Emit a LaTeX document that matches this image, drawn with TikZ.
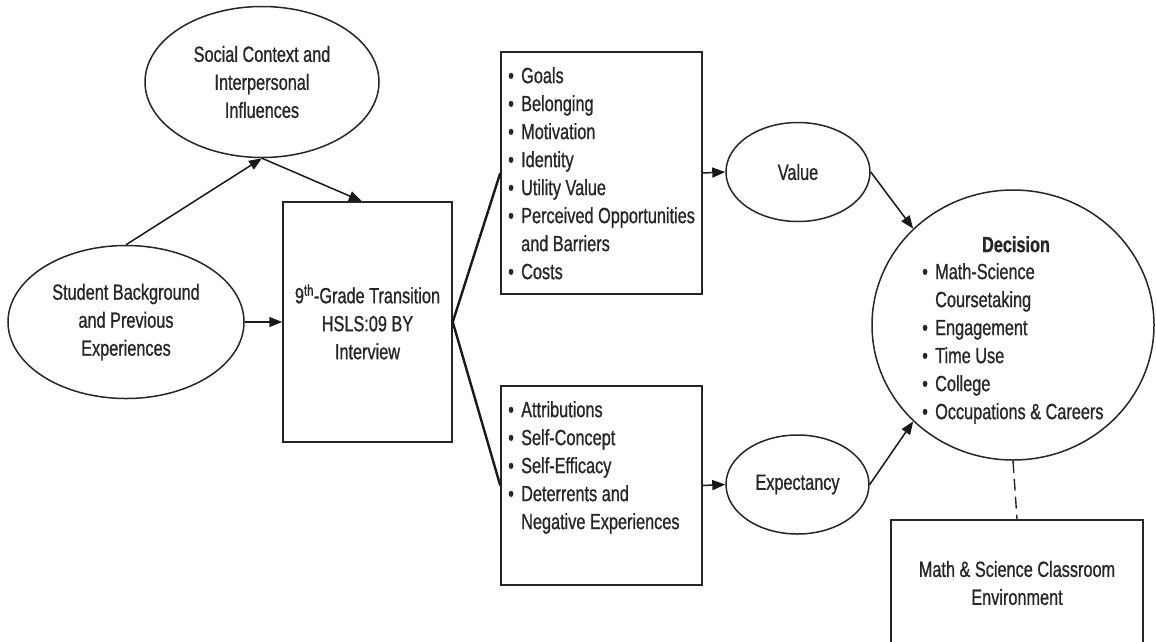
\documentclass[tikz,border=0pt]{standalone}
\usepackage{fontspec}
\setmainfont{Liberation Sans}[FakeStretch=0.74,FakeBold=0.8]
\usetikzlibrary{arrows.meta,shapes.geometric,calc}
\newcommand\bul{\makebox[13pt][l]{•}}
\newcommand\ind{\hspace*{13pt}}
\begin{document}
\begin{tikzpicture}[x=1pt,y=-1pt,
  every node/.style={font=\fontsize{22}{28}\selectfont, text=black!85},
  oval/.style={draw=black!85, ellipse, line width=1.5pt, inner sep=0pt},
  boxnode/.style={draw=black!85, rectangle, line width=1.5pt, inner sep=0pt},
  listtext/.style={align=left, inner sep=0pt, anchor=north west},
  arr/.style={draw=black!90, line width=1.5pt, -{Triangle[length=13pt,width=10pt]}},
  fan/.style={draw=black!90, line width=2.4pt},
  dashline/.style={draw=black!85, line width=1.4pt, dash pattern=on 12pt off 6pt},
]
\clip (0,0) rectangle (1156,641);
\fill[white] (0,0) rectangle (1156,641);

\node[oval, minimum width=234pt, minimum height=151pt, align=center] (social) at (262,82) {Social Context and\\Interpersonal\\Influences};
\node[oval, minimum width=236pt, minimum height=153pt, align=center] (student) at (126,322) {Student Background\\and Previous\\Experiences};
\node[boxnode, minimum width=169pt, minimum height=240pt, align=center] (grade) at (367.5,322) {9\textsuperscript{th}-Grade Transition\\HSLS:09 BY\\Interview};

\node[boxnode, minimum width=201pt, minimum height=242pt] (vbox) at (601.5,173) {};
\node[listtext] (vlist) at (508,67) {\bul Goals\\ \bul Belonging\\ \bul Motivation\\ \bul Identity\\ \bul Utility Value\\ \bul Perceived Opportunities\\ \ind and Barriers\\ \bul Costs};

\node[boxnode, minimum width=201pt, minimum height=199pt] (ebox) at (601.5,485.5) {};
\node[listtext] (elist) at (508,401) {\bul Attributions\\ \bul Self-Concept\\ \bul Self-Efficacy\\ \bul Deterrents and\\ \ind Negative Experiences};

\node[oval, minimum width=144pt, minimum height=99pt] (value) at (798,172) {Value};
\node[oval, minimum width=143pt, minimum height=99pt] (expect) at (797.5,484.5) {Expectancy};

\node[oval, minimum width=282pt, minimum height=270pt] (decision) at (1013,325) {};
\node[font=\bfseries\fontsize{22}{28}\selectfont, inner sep=0pt, anchor=north] (dtitle) at (1016,236) {Decision};
\node[listtext] (dlist) at (922,263) {\bul Math-Science\\ \ind Coursetaking\\ \bul Engagement\\ \bul Time Use\\ \bul College\\ \bul Occupations \& Careers};

\node[boxnode, minimum width=252pt, minimum height=160pt] (mbox) at (1017,600) {};
\node[align=center, inner sep=0pt] (mtext) at (1017,583) {Math \& Science Classroom\\Environment};

\draw[arr] (student.north) -- (social.south);
\draw[arr] (social.south) -- ($(grade.north west)!0.467!(grade.north east)$);
\draw[arr] (student.east) -- (grade.west);
\draw[fan] (vbox.west) -- (grade.east) -- (ebox.west);
\draw[arr] (vbox.east) -- (value.west);
\draw[arr] (ebox.east) -- (expect.west);
\draw[arr] (value.east) -- (decision.136);
\draw[arr] (expect.east) -- (decision.224);
\draw[dashline] (decision.south) -- (mbox.north);
\end{tikzpicture}
\end{document}
